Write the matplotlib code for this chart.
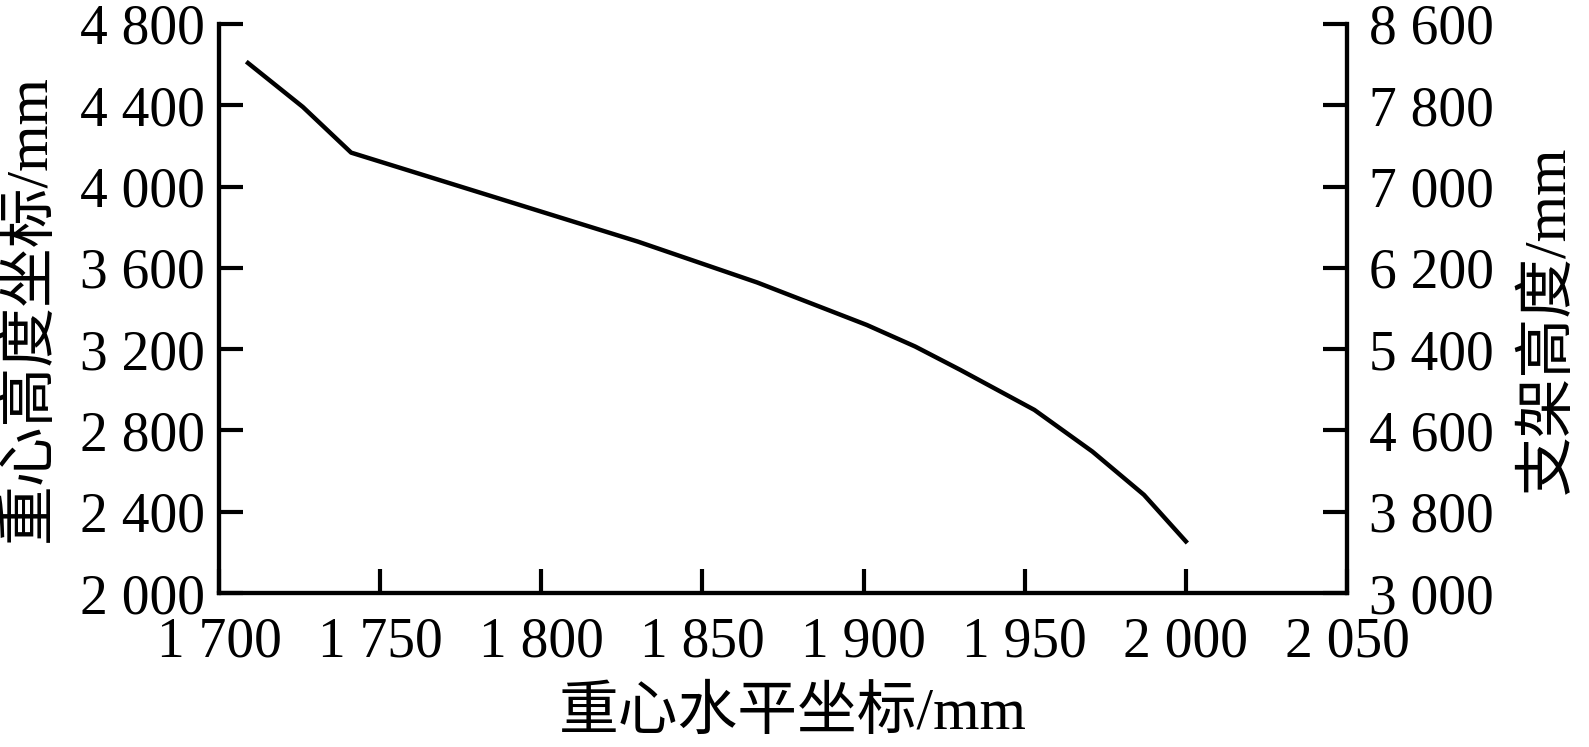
import matplotlib
matplotlib.use("Agg")
import matplotlib.pyplot as plt
from matplotlib.ticker import FixedLocator, FuncFormatter

# centre-of-gravity horizontal coordinate (mm) vs height (mm)
cg_x = [1709, 1726, 1741, 1830, 1867, 1901, 1916, 1930, 1953, 1971, 1987, 2000]
cg_h = [4608, 4392, 4167, 3729, 3528, 3319, 3213, 3098, 2901, 2696, 2483, 2254]

x_ticks = [1700, 1750, 1800, 1850, 1900, 1950, 2000, 2050]
left_ticks = [2000, 2400, 2800, 3200, 3600, 4000, 4400, 4800]
right_ticks = [3000, 3800, 4600, 5400, 6200, 7000, 7800, 8600]

x_label = "重心水平坐标/mm"
left_label = "重心高度坐标/mm"
right_label = "支架高度/mm"

FONT = ["Liberation Serif", "Noto Sans CJK SC"]
plt.rcParams["font.family"] = FONT
plt.rcParams["font.size"] = 40


def spaced(v, pos=None):
    s = f"{int(v):d}"
    return s[:-3] + " " + s[-3:] if len(s) > 3 else s


fig = plt.figure(figsize=(15.89, 7.47), dpi=100)
ax = fig.add_axes([219 / 1589, 1 - 593 / 747, (1347 - 219) / 1589, (593 - 24) / 747])

ax.plot(cg_x, cg_h, color="black", linewidth=3.2)
ax.set_xlim(1700, 2050)
ax.set_ylim(2000, 4800)
ax.xaxis.set_major_locator(FixedLocator(x_ticks))
ax.yaxis.set_major_locator(FixedLocator(left_ticks))
ax.xaxis.set_major_formatter(FuncFormatter(spaced))
ax.yaxis.set_major_formatter(FuncFormatter(spaced))

ax2 = ax.twinx()
ax2.set_ylim(3000, 8600)
ax2.yaxis.set_major_locator(FixedLocator(right_ticks))
ax2.yaxis.set_major_formatter(FuncFormatter(spaced))

for a in (ax, ax2):
    for sp in a.spines.values():
        sp.set_linewidth(3)
    a.spines["top"].set_visible(False)

ax.tick_params(axis="x", direction="in", length=17, width=3, pad=17)
ax.tick_params(axis="y", direction="in", length=17, width=3, pad=10)
ax2.tick_params(axis="y", direction="in", length=17, width=3, pad=16)

fig.text(793 / 1589, 1 - 714 / 747, x_label, ha="center", va="center", fontsize=43)
fig.text(30 / 1589, 1 - 308 / 747, left_label, ha="center", va="center",
         rotation=90, fontsize=43)
fig.text(1549 / 1589, 1 - 320 / 747, right_label, ha="center", va="center",
         rotation=90, fontsize=43)

fig.savefig("out.png", dpi=100, facecolor="white")
